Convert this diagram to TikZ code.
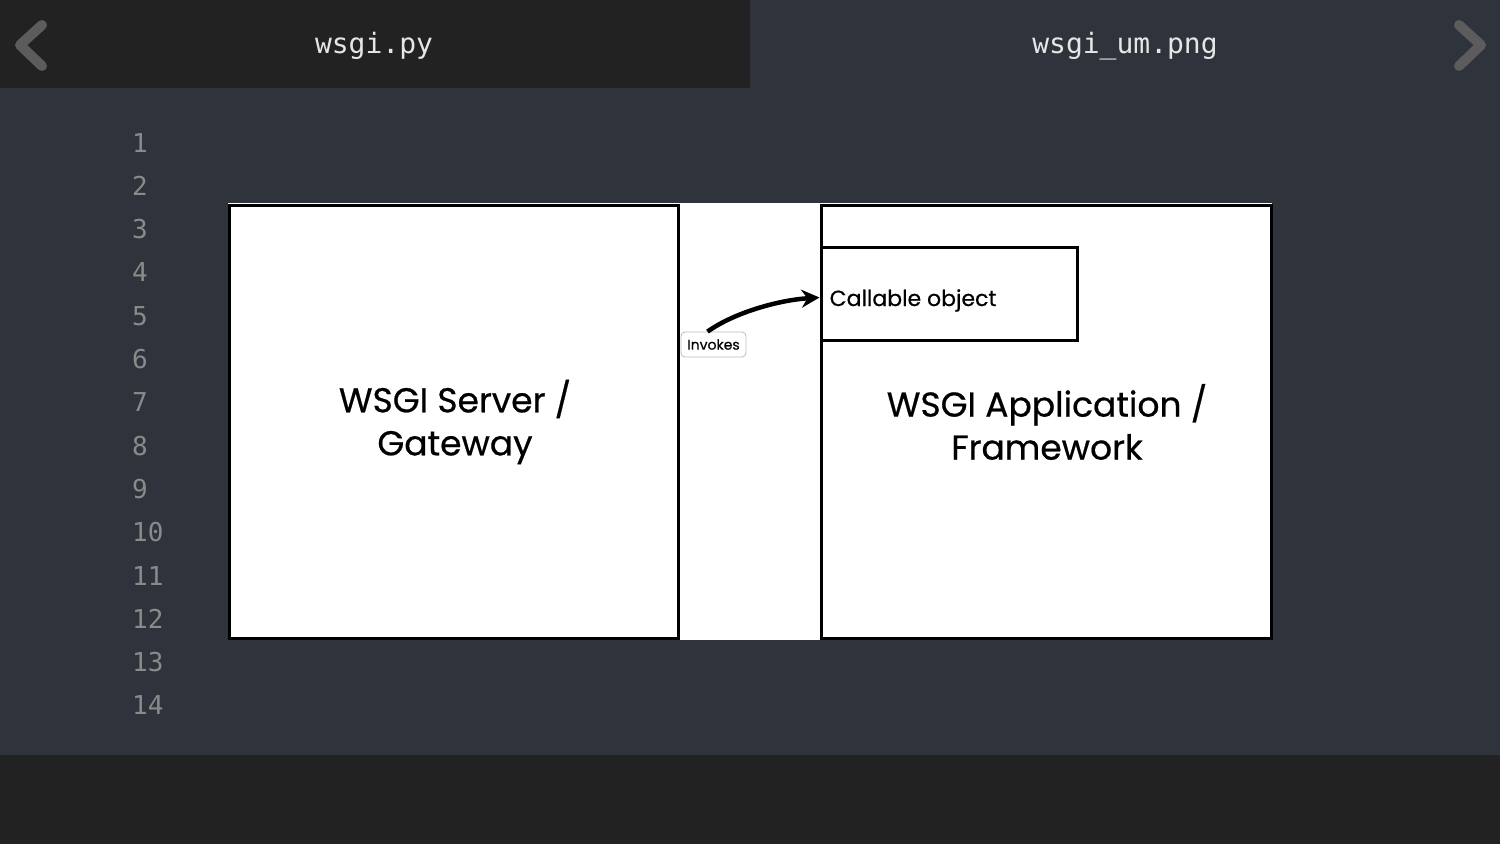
\documentclass[tikz,border=0pt]{standalone}
\usepackage{fontspec}
\newfontfamily\codefont{DejaVu Sans Mono}
\newfontfamily\sketchfont{Poppins}[FakeBold=0.6]
\usetikzlibrary{arrows.meta,calc}
\definecolor{bgslate}{HTML}{2F333C}
\definecolor{tabdark}{HTML}{222222}
\definecolor{numgray}{HTML}{8A8A8A}
\definecolor{chevgray}{HTML}{5C5C5C}
\definecolor{tabtext}{HTML}{E6E6E6}
\definecolor{labelgray}{HTML}{BBBBBB}
\begin{document}
\begin{tikzpicture}[x=1pt,y=-1pt,
  sketchbox/.style={draw=black,line width=3pt,fill=white,inner sep=0pt},
  bigtext/.style={inner sep=0pt,align=center,font=\sketchfont\fontsize{34.5}{43}\selectfont},
  lnum/.style={text=numgray,font=\codefont\fontsize{26}{26}\selectfont,anchor=base west,inner sep=0pt},
  tabtitle/.style={text=tabtext,font=\codefont\fontsize{28}{28}\selectfont,inner sep=0pt},
  chevron/.style={draw=chevgray,line width=10pt,line cap=round,line join=round},
  invlabel/.style={draw=labelgray,line width=0.8pt,rounded corners=4pt,fill=white,
    minimum width=65pt,minimum height=25pt,inner sep=0pt,font=\sketchfont\fontsize{14}{14}\selectfont},
  invarrow/.style={line width=4.5pt,-{Stealth[length=18pt,width=18pt]}}]
\useasboundingbox (0,0) rectangle (1500,844);
\fill[bgslate] (0,0) rectangle (1500,844);
\fill[tabdark] (0,0) rectangle (750,88);
\fill[tabdark] (0,755) rectangle (1500,844);
% chevrons
\draw[chevron] (42,25) -- (20,45) -- (42,66);
\draw[chevron] (1459,25) -- (1481,45) -- (1459,66);
% tab titles
\node[tabtitle] (tab1) at (374,46) {wsgi.py};
\node[tabtitle] (tab2) at (1125,46) {wsgi\_um.png};
% line numbers
\foreach \i in {1,...,14} \node[lnum] (ln\i) at (132,{152+43.3*(\i-1)}) {\i};
% image
\fill[white] (228,203) rectangle (1272,640);
\node[sketchbox,minimum width=449pt,minimum height=433pt] (server) at (453.5,421.5) {};
\node[bigtext] (servertext) at (455,422) {WSGI Server /\\Gateway};
\node[sketchbox,minimum width=450pt,minimum height=433pt] (app) at (1046,421.5) {};
\node[bigtext] (apptext) at (1047,422) {WSGI Application /\\Framework};
\node[sketchbox,minimum width=256pt,minimum height=93pt] (callable) at (949,293.5) {};
\node[anchor=west,inner sep=0pt,font=\sketchfont\fontsize{22}{22}\selectfont] (calltext)
  at ($(callable.west)+(10,7)$) {Callable object};
\node[invlabel] (inv) at (713.5,344.5) {Invokes};
\draw[invarrow] ([xshift=-6pt]inv.north) .. controls (735,312) and (780,300) .. ($(callable.west)+(0,4)$);
\end{tikzpicture}
\end{document}
